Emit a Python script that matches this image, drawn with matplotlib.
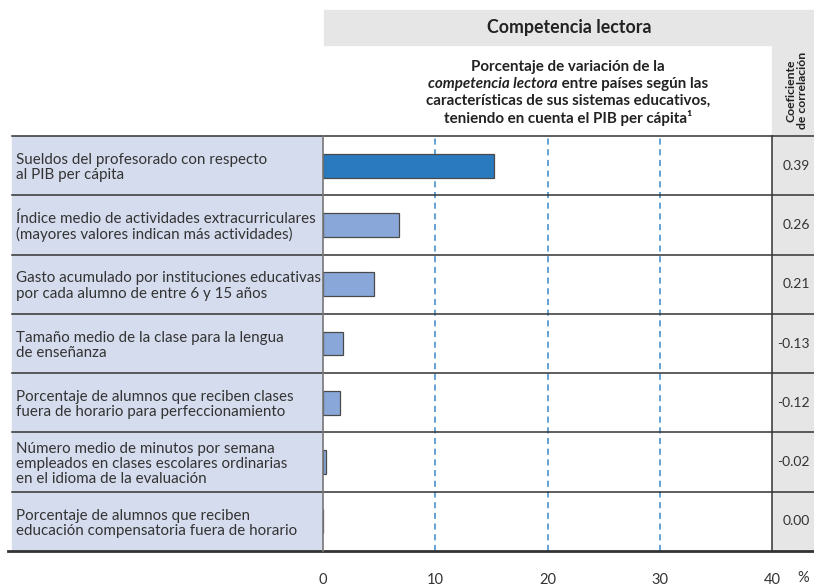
import matplotlib
matplotlib.use("Agg")
import matplotlib.pyplot as plt
import matplotlib.transforms as mtransforms
from matplotlib.patches import Rectangle

plt.rcParams['font.family'] = ['Lato', 'DejaVu Sans']

labels = [
    "Sueldos del profesorado con respecto\nal PIB per cápita",
    "Índice medio de actividades extracurriculares\n(mayores valores indican más actividades)",
    "Gasto acumulado por instituciones educativas\npor cada alumno de entre 6 y 15 años",
    "Tamaño medio de la clase para la lengua\nde enseñanza",
    "Porcentaje de alumnos que reciben clases\nfuera de horario para perfeccionamiento",
    "Número medio de minutos por semana\nempleados en clases escolares ordinarias\nen el idioma de la evaluación",
    "Porcentaje de alumnos que reciben\neducación compensatoria fuera de horario",
]
variacion = [15.2, 6.8, 4.5, 1.8, 1.5, 0.25, 0.0]
correlacion = ["0.39", "0.26", "0.21", "-0.13", "-0.12", "-0.02", "0.00"]
xticks = [0, 10, 20, 30, 40]

W, H = 814, 587
fig = plt.figure(figsize=(W / 100, H / 100), dpi=100)

def fx(px):
    return px / W

def fy(py):
    return 1 - py / H

txt = '#333333'
gray = '#e6e6e7'
lblue = '#d5dcee'

# header boxes and backgrounds, behind the axes
fig.patches.append(Rectangle((fx(324), fy(45)), fx(814) - fx(324), fy(10) - fy(45),
                             transform=fig.transFigure, color=gray, zorder=-1))
fig.patches.append(Rectangle((fx(772), fy(551)), fx(814) - fx(772), fy(45) - fy(551),
                             transform=fig.transFigure, color=gray, zorder=-1))
fig.patches.append(Rectangle((fx(12), fy(551)), fx(323) - fx(12), fy(136) - fy(551),
                             transform=fig.transFigure, color=lblue, zorder=-1))

ax = fig.add_axes([fx(323), fy(551), fx(772) - fx(323), fy(136) - fy(551)])
ax.set_facecolor('white')
n = len(labels)
ax.set_xlim(0, 40)
ax.set_ylim(n - 0.5, -0.5)

colors = ['#2a7abf'] + ['#89a8d9'] * (n - 1)
ax.barh(range(n), variacion, height=0.4, color=colors, edgecolor='#4a4a4a', linewidth=0.9, zorder=3)
for v in xticks[1:-1]:
    ax.axvline(v, color='#3a87c9', linestyle=(0, (4, 3)), linewidth=1.1, zorder=2)

for s in ax.spines.values():
    s.set_visible(False)
ax.set_yticks([])
ax.set_xticks(xticks)
ax.set_xticklabels([str(t) for t in xticks], fontsize=10.5, color=txt)
ax.tick_params(axis='x', length=0, pad=16)

trans = mtransforms.blended_transform_factory(fig.transFigure, ax.transData)
for i in range(n + 1):
    y = i - 0.5
    lw = 2.0 if i == n else 1.1
    x0 = fx(8) if i == n else fx(12)
    ax.plot([x0, 1.0], [y, y], transform=trans, color='#333333', lw=lw, clip_on=False, zorder=5)

ax.plot([0, 0], [-0.5, n - 0.5], color='#777777', lw=1.2, clip_on=False, zorder=5)
ax.plot([40, 40], [-0.5, n - 0.5], color='#333333', lw=1.1, clip_on=False, zorder=5)

for i, (lab, c) in enumerate(zip(labels, correlacion)):
    ax.text(fx(16), i + 0.03, lab, transform=trans, ha='left', va='center', fontsize=10.9,
            color=txt, linespacing=1.1, clip_on=False)
    ax.text(fx(810), i, c, transform=trans, ha='right', va='center', fontsize=10,
            color=txt, clip_on=False)

fig.text(fx(803), fy(578), "%", ha='center', va='center', fontsize=10.5, color=txt)

# titles
fig.text(fx(569), fy(27), "Competencia lectora", ha='center', va='center',
         fontsize=12.8, fontweight='bold', color='#222222')
sub_kw = dict(fontsize=10.9, fontweight='bold', color='#222222', va='center')
fig.text(fx(568), fy(67), "Porcentaje de variación de la", ha='center', **sub_kw)
fig.text(fx(568), fy(101), "características de sus sistemas educativos,", ha='center', **sub_kw)
fig.text(fx(568), fy(118), "teniendo en cuenta el PIB per cápita¹", ha='center', **sub_kw)
t1 = fig.text(0, fy(84), "competencia lectora", ha='left', style='italic', **sub_kw)
t2 = fig.text(0, fy(84), " entre países según las", ha='left', **sub_kw)
fig.canvas.draw()
r = fig.canvas.get_renderer()
w1 = t1.get_window_extent(r).width
w2 = t2.get_window_extent(r).width
start = 568 - (w1 + w2) / 2
t1.set_x(fx(start))
t2.set_x(fx(start + w1))

fig.text(fx(797), fy(129), "Coeficiente\nde correlación", rotation=90, ha='center', va='bottom',
         multialignment='center', fontsize=8.8, fontweight='bold', color='#222222', linespacing=1.05)

fig.savefig('out.png', dpi=100)
